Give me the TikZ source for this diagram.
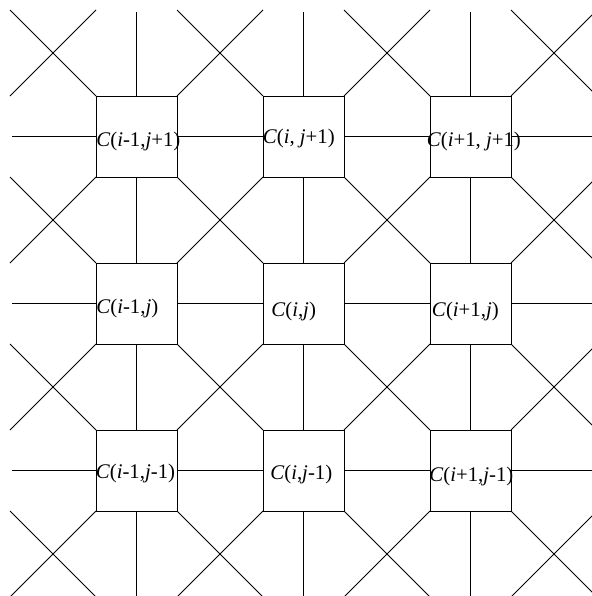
\documentclass[tikz,border=0pt]{standalone}
\usepackage{fontspec}
\setmainfont{Liberation Serif}
\begin{document}
\begin{tikzpicture}[x=0.75pt,y=-0.75pt,
  cell/.style={draw, line width=0.75pt, fill=white, minimum width=60.75pt, minimum height=60.75pt, inner sep=0pt, outer sep=0pt},
  wire/.style={line width=0.75pt},
  lab/.style={anchor=base west, inner sep=0pt, font=\fontsize{15.6}{18}\selectfont}]
\useasboundingbox (0,0) rectangle (592,596);
\fill[white] (0,0) rectangle (592,596);
\clip (0,0) rectangle (592,596);
% boxes
\node[cell] (b11) at (136.5,136.5) {};
\node[cell] (b21) at (303.5,136.5) {};
\node[cell] (b31) at (470.5,136.5) {};
\node[cell] (b12) at (136.5,303.5) {};
\node[cell] (b22) at (303.5,303.5) {};
\node[cell] (b32) at (470.5,303.5) {};
\node[cell] (b13) at (136.5,470.5) {};
\node[cell] (b23) at (303.5,470.5) {};
\node[cell] (b33) at (470.5,470.5) {};
% horizontal connectors
\foreach \r in {1,2,3}{
  \draw[wire] (b1\r.west) -- ++(-84.5,0);
  \draw[wire] (b1\r.east) -- (b2\r.west);
  \draw[wire] (b2\r.east) -- (b3\r.west);
  \draw[wire] (b3\r.east) -- ++(84.5,0);
}
% vertical connectors
\foreach \c in {1,2,3}{
  \draw[wire] (b\c1.north) -- ++(0,-84.5);
  \draw[wire] (b\c1.south) -- (b\c2.north);
  \draw[wire] (b\c2.south) -- (b\c3.north);
  \draw[wire] (b\c3.south) -- ++(0,84.5);
}
% diagonal connectors between boxes
\draw[wire] (b11.south east) -- (b22.north west);
\draw[wire] (b22.south east) -- (b33.north west);
\draw[wire] (b21.south east) -- (b32.north west);
\draw[wire] (b12.south east) -- (b23.north west);
\draw[wire] (b21.south west) -- (b12.north east);
\draw[wire] (b31.south west) -- (b22.north east);
\draw[wire] (b22.south west) -- (b13.north east);
\draw[wire] (b32.south west) -- (b23.north east);
% diagonal connectors to the border
\def\d{86}
\draw[wire] (b11.north west) -- ++(-\d,-\d);
\draw[wire] (b11.north east) -- ++(\d,-\d);
\draw[wire] (b11.south west) -- ++(-\d,\d);
\draw[wire] (b21.north west) -- ++(-\d,-\d);
\draw[wire] (b21.north east) -- ++(\d,-\d);
\draw[wire] (b31.north west) -- ++(-\d,-\d);
\draw[wire] (b31.north east) -- ++(\d,-\d);
\draw[wire] (b31.south east) -- ++(\d,\d);
\draw[wire] (b12.north west) -- ++(-\d,-\d);
\draw[wire] (b12.south west) -- ++(-\d,\d);
\draw[wire] (b32.north east) -- ++(\d,-\d);
\draw[wire] (b32.south east) -- ++(\d,\d);
\draw[wire] (b13.north west) -- ++(-\d,-\d);
\draw[wire] (b13.south west) -- ++(-\d,\d);
\draw[wire] (b13.south east) -- ++(\d,\d);
\draw[wire] (b23.south west) -- ++(-\d,\d);
\draw[wire] (b23.south east) -- ++(\d,\d);
\draw[wire] (b33.north east) -- ++(\d,-\d);
\draw[wire] (b33.south west) -- ++(-\d,\d);
\draw[wire] (b33.south east) -- ++(\d,\d);
% free diagonals at the four corners
\coordinate (tl1) at (96,10);  \coordinate (tl2) at (10,96);
\coordinate (tr1) at (511,10); \coordinate (tr2) at (597,96);
\coordinate (bl1) at (10,511); \coordinate (bl2) at (96,597);
\coordinate (br1) at (597,511); \coordinate (br2) at (511,597);
\draw[wire] (tl1) -- (tl2);
\draw[wire] (tr1) -- (tr2);
\draw[wire] (bl1) -- (bl2);
\draw[wire] (br1) -- (br2);
% labels
\node[lab] (t11) at (96,146) {\textit{C}(\textit{i}-1,\textit{j}+1)};
\node[lab] (t21) at (262.5,143.5) {\textit{C}(\textit{i}, \textit{j}+1)};
\node[lab] (t31) at (426.5,146) {\textit{C}(\textit{i}+1, \textit{j}+1)};
\node[lab] (t12) at (96,313) {\textit{C}(\textit{i}-1,\textit{j})};
\node[lab] (t22) at (271,316.5) {\textit{C}(\textit{i},\textit{j})};
\node[lab] (t32) at (431.7,316.5) {\textit{C}(\textit{i}+1,\textit{j})};
\node[lab] (t13) at (95.5,478.5) {\textit{C}(\textit{i}-1,\textit{j}-1)};
\node[lab] (t23) at (270,479.3) {\textit{C}(\textit{i},\textit{j}-1)};
\node[lab] (t33) at (429,481) {\textit{C}(\textit{i}+1,\textit{j}-1)};
\end{tikzpicture}
\end{document}
